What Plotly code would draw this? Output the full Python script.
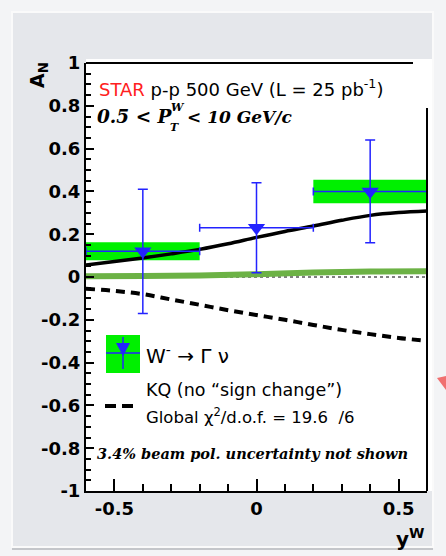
import plotly.graph_objects as go

# --- measured asymmetry, W- -> l nu ---
y_w = [-0.4, 0.0, 0.4]
a_n = [0.12, 0.23, 0.40]
a_n_stat = [0.29, 0.21, 0.24]
y_w_halfwidth = [0.2, 0.2, 0.2]
a_n_sys = [0.042, 0.0, 0.055]

# --- theory curves ---
curve_x = [-0.6, -0.5, -0.4, -0.3, -0.2, -0.1, 0.0, 0.1, 0.2, 0.3, 0.4, 0.5, 0.6]
sign_change = [0.056, 0.072, 0.089, 0.108, 0.129, 0.155, 0.185, 0.213, 0.238, 0.265, 0.288, 0.301, 0.308]
kq_no_sign_change = [-0.055, -0.065, -0.08, -0.105, -0.13, -0.155, -0.178, -0.2, -0.224, -0.247, -0.267, -0.285, -0.298]
flat_x = [-0.6, -0.4, -0.2, 0.0, 0.2, 0.4, 0.6]
flat_curve = [0.004, 0.005, 0.007, 0.013, 0.021, 0.026, 0.027]

# --- axis ticks ---
y_tick_vals = [-1, -0.8, -0.6, -0.4, -0.2, 0, 0.2, 0.4, 0.6, 0.8, 1]
y_tick_text = ["-1", "-0.8", "-0.6", "-0.4", "-0.2", "0", "0.2", "0.4", "0.6", "0.8", "1"]
x_tick_vals = [-0.5, 0, 0.5]
x_tick_text = ["-0.5", "0", "0.5"]

W, H = 446, 556
L, R, T, B = 86, 427, 63, 491


def px(x):
    return (x - L) / (R - L)


def py(y):
    return (B - y) / (B - T)


SANS = "DejaVu Sans"
SERIF = "DejaVu Serif"
BLUE = "#2323ff"
GREEN_BOX = "#00f000"

fig = go.Figure()

# zero reference line
fig.add_trace(go.Scatter(x=[-0.6, 0.6], y=[0, 0], mode="lines",
                         line=dict(color="black", width=1.2, dash="dot"),
                         hoverinfo="skip", showlegend=False))
fig.add_trace(go.Scatter(x=flat_x, y=flat_curve, mode="lines", line_shape="spline",
                         line=dict(color="#6cb245", width=6), showlegend=False))
fig.add_trace(go.Scatter(x=curve_x, y=sign_change, mode="lines", line_shape="spline",
                         line=dict(color="black", width=3.5), showlegend=False))
fig.add_trace(go.Scatter(x=curve_x, y=kq_no_sign_change, mode="lines", line_shape="spline",
                         line=dict(color="black", width=4, dash="9px,6px"), showlegend=False))

fig.add_trace(go.Scatter(
    x=y_w, y=a_n, mode="markers",
    marker=dict(symbol="triangle-down", size=15, color=BLUE),
    error_y=dict(type="data", array=a_n_stat, color=BLUE, thickness=1.5, width=5),
    error_x=dict(type="data", array=y_w_halfwidth, color=BLUE, thickness=1.5, width=4),
    showlegend=False))

shapes = []
# panel and plotting surface
shapes.append(dict(type="rect", xref="paper", yref="paper", x0=px(12), x1=px(433), y0=py(547), y1=py(12),
                   fillcolor="#e5e7eb", line=dict(color="#fafafa", width=2), layer="below"))
shapes.append(dict(type="line", xref="paper", yref="paper", x0=px(12), x1=px(433), y0=py(549), y1=py(549),
                   line=dict(color="#c4c6ca", width=2), layer="below"))
shapes.append(dict(type="rect", xref="paper", yref="paper", x0=px(86), x1=px(432), y0=py(491), y1=py(59),
                   fillcolor="white", line=dict(width=0), layer="below"))
# systematic boxes
for xc, yc, hw, s in zip(y_w, a_n, y_w_halfwidth, a_n_sys):
    if s > 0:
        shapes.append(dict(type="rect", xref="x", yref="y", x0=xc - hw, x1=xc + hw,
                           y0=yc - s, y1=yc + s, fillcolor=GREEN_BOX, line=dict(width=0), layer="below"))
# frame: top and right edges
shapes.append(dict(type="line", xref="paper", yref="paper", x0=0, x1=px(413), y0=1, y1=1,
                   line=dict(color="black", width=2)))
shapes.append(dict(type="line", xref="paper", yref="paper", x0=1, x1=1, y0=0, y1=py(108),
                   line=dict(color="black", width=2)))
# legend glyphs
shapes.append(dict(type="rect", xref="paper", yref="paper", x0=px(106), x1=px(140), y0=py(373), y1=py(335),
                   fillcolor=GREEN_BOX, line=dict(width=0)))
shapes.append(dict(type="line", xref="paper", yref="paper", x0=px(106), x1=px(140), y0=py(353), y1=py(353),
                   line=dict(color=BLUE, width=1.5)))
shapes.append(dict(type="line", xref="paper", yref="paper", x0=px(123), x1=px(123), y0=py(369), y1=py(337),
                   line=dict(color=BLUE, width=1.5)))
shapes.append(dict(type="path", xref="paper", yref="paper",
                   path=f"M {px(116)} {py(343)} L {px(130)} {py(343)} L {px(123)} {py(356)} Z",
                   fillcolor=BLUE, line=dict(width=0)))
for a, b in [(105, 116), (122, 133)]:
    shapes.append(dict(type="line", xref="paper", yref="paper", x0=px(a), x1=px(b), y0=py(406), y1=py(406),
                       line=dict(color="black", width=4)))
# neighbouring slide decorations
shapes.append(dict(type="path", xref="paper", yref="paper",
                   path=f"M {px(437)} {py(378)} L {px(446)} {py(376)} L {px(446)} {py(390)} Z",
                   fillcolor="#f07070", line=dict(width=0)))

annotations = []


def note(x, y, text, size, family=SANS, color="black", anchor="left", angle=0):
    annotations.append(dict(xref="paper", yref="paper", x=px(x), y=py(y), text=text, showarrow=False,
                            xanchor=anchor, yanchor="middle", textangle=angle,
                            font=dict(family=family, size=size, color=color)))


note(97, 88, "<span style='color:#ff2020'>STAR</span> p-p 500 GeV (L = 25 pb<sup>-1</sup>)", 18)
note(95, 117, "<b><i>0.5 &lt; P</i></b>", 18.5, SERIF)
note(169, 107, "<b><i>W</i></b>", 11, SERIF)
note(168, 127, "<b><i>T</i></b>", 11, SERIF)
note(185, 117, "<b><i>&lt; 10 GeV/c</i></b>", 17, SERIF)
note(144, 355, "W<sup>-</sup> → Γ ν", 20)
note(144, 390, "KQ (no “sign change”)", 17.5)
note(144, 416, "Global χ<sup>2</sup>/d.o.f. = 19.6&nbsp; /6", 16.5)
note(95, 453, "<b><i>3.4% beam pol. uncertainty not shown</i></b>", 14.5, SERIF)
note(38, 75, "<b>A<sub>N</sub></b>", 19, angle=-90, anchor="center")
note(410, 538, "<b>y<sup>W</sup></b>", 20, anchor="center")

fig.update_layout(
    width=W, height=H,
    margin=dict(l=L, r=W - R, t=T, b=H - B),
    paper_bgcolor="#f3f4f6",
    plot_bgcolor="rgba(0,0,0,0)",
    shapes=shapes,
    annotations=annotations,
    showlegend=False,
    xaxis=dict(range=[-0.6, 0.6], showgrid=False, zeroline=False,
               showline=True, linecolor="black", linewidth=2,
               ticks="inside", ticklen=12, tickwidth=1.5, tickcolor="black",
               tickvals=x_tick_vals, ticktext=x_tick_text,
               tickfont=dict(family=SANS, size=18, color="black", weight="bold"),
               minor=dict(tickmode="linear", tick0=-0.6, dtick=0.1, ticks="inside",
                          ticklen=7, tickwidth=1.5, tickcolor="black")),
    yaxis=dict(range=[-1, 1], showgrid=False, zeroline=False,
               showline=True, linecolor="black", linewidth=2,
               ticks="inside", ticklen=8, tickwidth=1.5, tickcolor="black",
               tickvals=y_tick_vals, ticktext=y_tick_text,
               tickfont=dict(family=SANS, size=18, color="black", weight="bold"),
               minor=dict(tickmode="linear", tick0=-1, dtick=0.05, ticks="inside",
                          ticklen=5, tickwidth=1.5, tickcolor="black")),
)

fig.write_html("out.html")
